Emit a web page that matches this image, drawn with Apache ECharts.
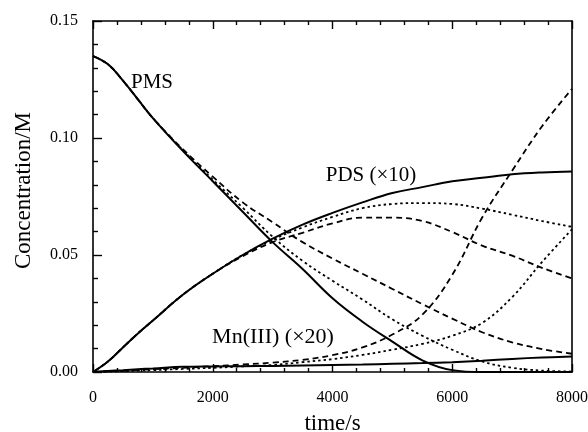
<!DOCTYPE html>
<html>
<head>
<meta charset="utf-8">
<script src="https://cdn.jsdelivr.net/npm/echarts@6/dist/echarts.min.js"></script>
<style>html,body{margin:0;padding:0;background:#fff}#c{width:588px;height:432px}</style>
</head>
<body>
<div id="c"></div>
<script>
// time points (s)
var times = [0, 250, 500, 750, 1000, 1500, 2000, 2500, 3000, 3500, 4000, 4500, 5000, 5500, 6000, 6500, 7000, 7500, 8000];
// PMS (M)
var pmsSolid = [0.135, 0.1315, 0.1245, 0.1165, 0.1085, 0.0945, 0.0815, 0.0685, 0.0555, 0.044, 0.0315, 0.0215, 0.013, 0.005, 0.0008, 0, 0, 0, 0];
var pmsDotted = [0.135, 0.1315, 0.1245, 0.1165, 0.1085, 0.0948, 0.0822, 0.0702, 0.0578, 0.0475, 0.039, 0.031, 0.0225, 0.0155, 0.0095, 0.0045, 0.0018, 0.0006, 0.0002];
var pmsDashed = [0.135, 0.1315, 0.1245, 0.1165, 0.1085, 0.0952, 0.0835, 0.0725, 0.064, 0.0555, 0.0485, 0.042, 0.0355, 0.029, 0.0228, 0.017, 0.0127, 0.0098, 0.0078];
// PDS (x10)
var pdsSolid = [0, 0.0045, 0.0105, 0.0165, 0.022, 0.033, 0.042, 0.050, 0.057, 0.063, 0.068, 0.0725, 0.0765, 0.079, 0.0815, 0.083, 0.0845, 0.0853, 0.0857];
var pdsDotted = [0, 0.0045, 0.0105, 0.0165, 0.022, 0.033, 0.042, 0.050, 0.0565, 0.0618, 0.0663, 0.070, 0.0718, 0.0722, 0.0718, 0.0698, 0.0672, 0.0645, 0.062];
var pdsDashed = [0, 0.0045, 0.0105, 0.0165, 0.022, 0.033, 0.042, 0.0495, 0.0555, 0.0595, 0.0635, 0.066, 0.066, 0.0645, 0.0598, 0.054, 0.0497, 0.0445, 0.040];
// Mn(III) (x20)
var mnSolid = [0, 0.0004, 0.0008, 0.0012, 0.0015, 0.0022, 0.0024, 0.0025, 0.0026, 0.0028, 0.003, 0.0032, 0.0035, 0.0038, 0.0042, 0.0048, 0.0056, 0.0062, 0.0066];
var mnDashed = [0, 0.0003, 0.0005, 0.0009, 0.0012, 0.0018, 0.0025, 0.0032, 0.004, 0.0052, 0.0072, 0.0105, 0.016, 0.0245, 0.0415, 0.066, 0.086, 0.105, 0.121];
var mnDotted = [0, 0.0002, 0.0004, 0.0006, 0.0008, 0.0013, 0.0018, 0.0024, 0.003, 0.0042, 0.0055, 0.0073, 0.0095, 0.012, 0.0155, 0.021, 0.032, 0.047, 0.061];
// axis ticks
var xTicks = {min: 0, max: 8000, interval: 2000};
var yTicks = {min: 0, max: 0.15, interval: 0.05};
// labels
var curveLabels = ['PMS', 'PDS (\u00d710)', 'Mn(III) (\u00d720)'];
var xName = 'time/s', yName = 'Concentration/M';

var serif = '"Liberation Serif", "Times New Roman", serif';
function pairs(v) { return times.map(function (t, i) { return [t, v[i]]; }); }
function mk(v, kind) {
  var ls = {color: '#000', width: kind === 'solid' ? 2 : 1.8};
  if (kind === 'dashed') ls.type = [6, 4];
  if (kind === 'dotted') ls.type = [2.5, 3];
  return {type: 'line', data: pairs(v), showSymbol: false, smooth: 0.4,
    lineStyle: ls, itemStyle: {color: '#000'}, silent: true, animation: false, z: 3};
}
function axLine() { return {show: true, onZero: false, lineStyle: {color: '#000', width: 1.6}}; }
function tick(len) { return {show: true, inside: true, length: len, lineStyle: {color: '#000', width: 1.4}}; }
function minor(len) { return {show: true, splitNumber: 5, length: len, lineStyle: {color: '#000', width: 1.4}}; }
var chart = echarts.init(document.getElementById('c'), null, {renderer: 'canvas'});
chart.setOption({
  animation: false,
  backgroundColor: '#fff',
  grid: {left: 93, right: 16, top: 21, bottom: 60, show: false, containLabel: false, outerBoundsMode: 'none'},
  xAxis: [{
    type: 'value', min: xTicks.min, max: xTicks.max, interval: xTicks.interval, position: 'bottom',
    axisLine: axLine(), axisTick: tick(8), minorTick: minor(4),
    splitLine: {show: false}, minorSplitLine: {show: false},
    axisLabel: {show: true, color: '#000', fontFamily: serif, fontSize: 16, margin: 18,
      formatter: function (v) { return String(v); }},
    name: xName, nameLocation: 'middle', nameGap: 40,
    nameTextStyle: {color: '#000', fontFamily: serif, fontSize: 23}
  }, {
    type: 'value', min: xTicks.min, max: xTicks.max, interval: xTicks.interval, position: 'top',
    axisLine: axLine(), axisTick: tick(8), minorTick: minor(4),
    splitLine: {show: false}, minorSplitLine: {show: false}, axisLabel: {show: false}
  }],
  yAxis: [{
    type: 'value', min: yTicks.min, max: yTicks.max, interval: yTicks.interval, position: 'left',
    axisLine: axLine(), axisTick: tick(9), minorTick: minor(5),
    splitLine: {show: false}, minorSplitLine: {show: false},
    axisLabel: {show: true, color: '#000', fontFamily: serif, fontSize: 16, margin: 15,
      formatter: function (v) { return v.toFixed(2); }},
    name: yName, nameLocation: 'middle', nameGap: 58, nameRotate: 90,
    nameTextStyle: {color: '#000', fontFamily: serif, fontSize: 23, padding: [0, 0, 0, 12]}
  }, {
    type: 'value', min: yTicks.min, max: yTicks.max, interval: yTicks.interval, position: 'right',
    axisLine: axLine(), axisTick: {show: false}, minorTick: {show: false},
    axisLabel: {show: false}, splitLine: {show: false}
  }],
  graphic: [
    {type: 'text', x: 152, y: 82, style: {text: curveLabels[0], fill: '#000', font: '21px ' + serif, textAlign: 'center', textVerticalAlign: 'middle'}},
    {type: 'text', x: 371, y: 175, style: {text: curveLabels[1], fill: '#000', font: '21px ' + serif, textAlign: 'center', textVerticalAlign: 'middle'}},
    {type: 'text', x: 273, y: 337, style: {text: curveLabels[2], fill: '#000', font: '22px ' + serif, textAlign: 'center', textVerticalAlign: 'middle'}}
  ],
  series: [
    mk(pmsSolid, 'solid'), mk(pmsDotted, 'dotted'), mk(pmsDashed, 'dashed'),
    mk(pdsSolid, 'solid'), mk(pdsDotted, 'dotted'), mk(pdsDashed, 'dashed'),
    mk(mnSolid, 'solid'), mk(mnDashed, 'dashed'), mk(mnDotted, 'dotted')
  ]
});
</script>
</body>
</html>
